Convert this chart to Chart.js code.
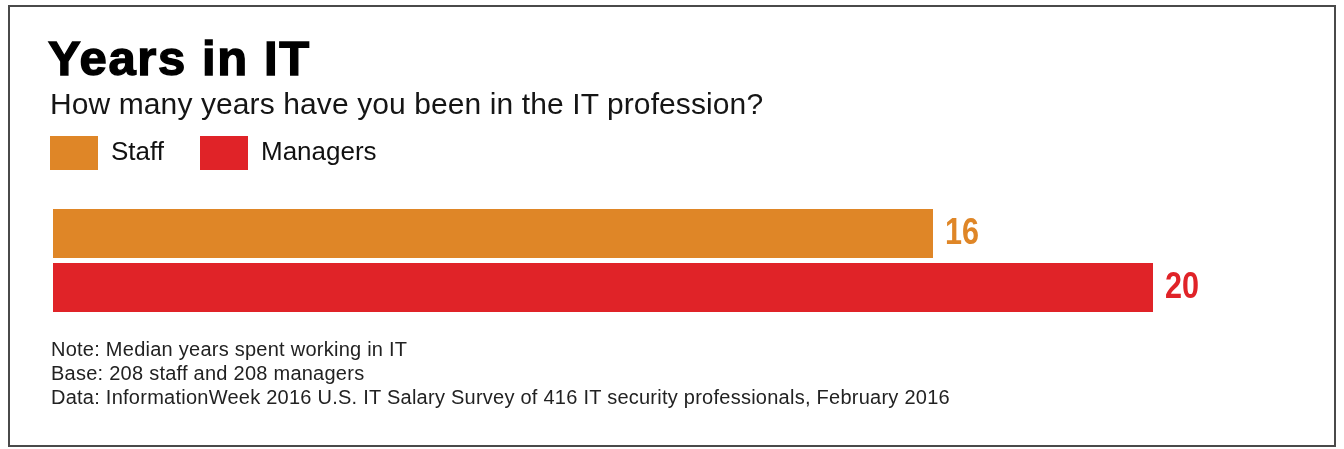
<!DOCTYPE html>
<html>
<head>
<meta charset="utf-8">
<title>Years in IT</title>
<script src="https://cdn.jsdelivr.net/npm/chart.js@4/dist/chart.umd.min.js"></script>
<style>
  html, body { margin: 0; padding: 0; background: #fff; }
  body {
    width: 1344px; height: 449px; position: relative; overflow: hidden;
    font-family: "Liberation Sans", Arial, Helvetica, sans-serif; color: #111;
  }
  #frame {
    position: absolute; left: 8px; top: 5px; width: 1324px; height: 438px;
    border: 2px solid #4a4a4a; box-sizing: content-box;
  }
  #chart { position: absolute; left: 0; top: 0; display: block; }
  .t { position: absolute; white-space: nowrap; line-height: 1; transform-origin: 0 0; }
  #title {
    left: 48px; top: 34px; font-size: 49px; font-weight: bold; color: #000;
    letter-spacing: 1.6px; -webkit-text-stroke: 1.4px #000;
  }
  #subtitle { left: 50px; top: 89px; font-size: 30px; letter-spacing: 0.1px; color: #151515; }
  .note { left: 51px; font-size: 20px; letter-spacing: 0.25px; color: #222; }
</style>
</head>
<body>
<div id="frame"></div>
<canvas id="chart" width="1344" height="449"></canvas>
<div class="t" id="title">Years in IT</div>
<div class="t" id="subtitle">How many years have you been in the IT profession?</div>
<div class="t note" style="top:339px">Note: Median years spent working in IT</div>
<div class="t note" style="top:363px">Base: 208 staff and 208 managers</div>
<div class="t note" style="top:387px">Data: InformationWeek 2016 U.S. IT Salary Survey of 416 IT security professionals, February 2016</div>

<script>
// Survey answer: median years in the IT profession
const categories = ['Median years in IT'];
const seriesNames = ['Staff', 'Managers'];
const staffYears = [16];
const managerYears = [20];
const axisMax = 22;

const STAFF_COLOR = '#df8627';
const MANAGER_COLOR = '#e02328';

// Writes each bar's value just past its end, in the bar's colour,
// using a horizontally squeezed bold face for a condensed look
const valueLabels = {
  id: 'valueLabels',
  afterDatasetsDraw(chart) {
    const ctx = chart.ctx;
    const squeeze = 0.85;
    chart.data.datasets.forEach((ds, i) => {
      const meta = chart.getDatasetMeta(i);
      meta.data.forEach((bar, j) => {
        ctx.save();
        ctx.font = 'bold 36px "Liberation Sans", Arial, sans-serif';
        ctx.textBaseline = 'middle';
        ctx.textAlign = 'left';
        ctx.fillStyle = ds.backgroundColor;
        ctx.translate(bar.x + 12, bar.y + 1);
        ctx.scale(squeeze, 1);
        ctx.fillText(String(ds.data[j]), 0, 0);
        ctx.restore();
      });
    });
  }
};

new Chart(document.getElementById('chart'), {
  type: 'bar',
  data: {
    labels: categories,
    datasets: [
      { label: seriesNames[0], data: staffYears, backgroundColor: STAFF_COLOR, borderWidth: 0 },
      { label: seriesNames[1], data: managerYears, backgroundColor: MANAGER_COLOR, borderWidth: 0 }
    ]
  },
  options: {
    indexAxis: 'y',
    responsive: false,
    animation: false,
    devicePixelRatio: 1,
    categoryPercentage: 1,
    barPercentage: 0.907,
    layout: { padding: { top: 100, left: 14, right: 81, bottom: 134.5 } },
    scales: {
      x: {
        position: 'top', min: 0, max: axisMax,
        ticks: { display: false }, grid: { display: false }, border: { display: false },
        afterFit(scale) { scale.height = 26.5; }
      },
      y: {
        ticks: { display: false }, grid: { display: false }, border: { display: false },
        afterFit(scale) { scale.width = 39; }
      }
    },
    plugins: {
      tooltip: { enabled: false },
      legend: {
        position: 'top', align: 'start',
        labels: {
          boxWidth: 48, boxHeight: 34, padding: 36, color: '#111',
          font: { family: '"Liberation Sans", Arial, sans-serif', size: 26 }
        }
      }
    }
  },
  plugins: [valueLabels]
});
</script>
</body>
</html>
